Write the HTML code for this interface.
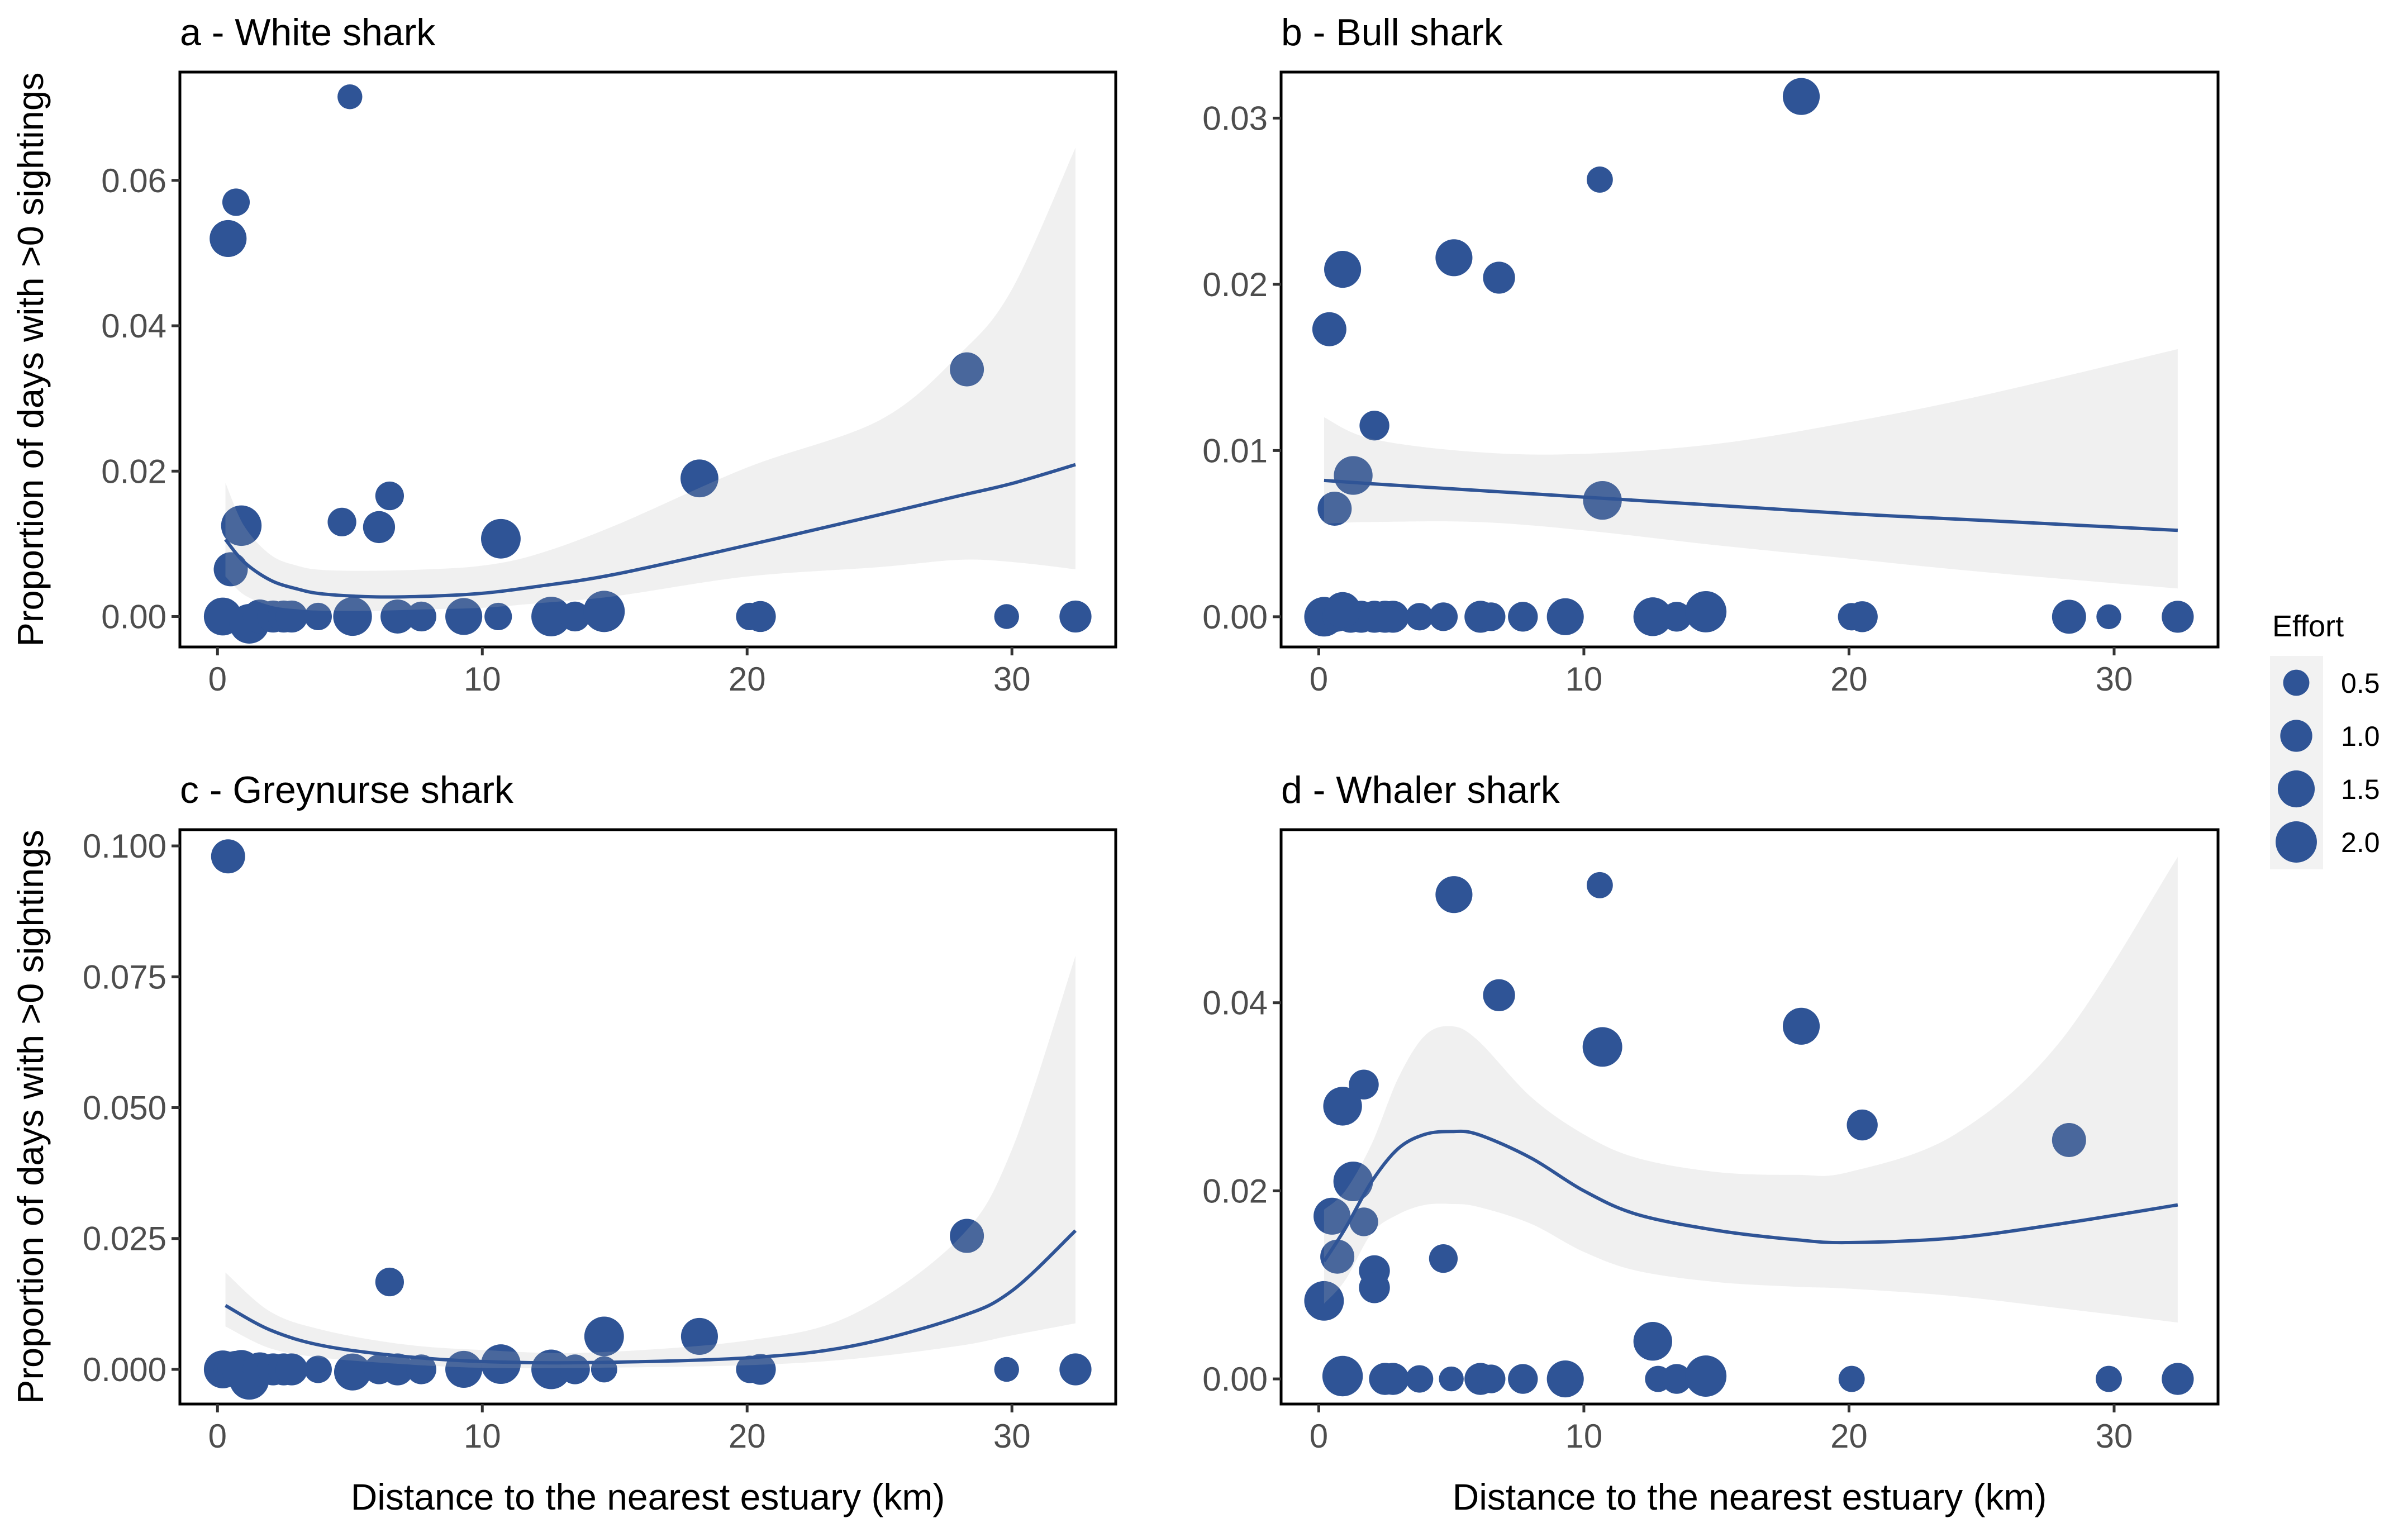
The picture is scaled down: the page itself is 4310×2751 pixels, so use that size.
<!DOCTYPE html>
<html><head><meta charset="utf-8">
<style>
html,body{margin:0;padding:0;background:#fff;}
svg{display:block;}
text{font-family:"Liberation Sans",Arial,sans-serif;}
</style></head>
<body>
<svg id="fig" width="4310" height="2751" viewBox="0 0 4310 2751" xmlns="http://www.w3.org/2000/svg">
<rect width="4310" height="2751" fill="#fff"/>
<g>
  <text x="4067" y="1139" font-size="54" fill="#000">Effort</text>
  <rect x="4063" y="1174" width="95" height="382" fill="#f2f2f2"/>
  <g id="legendKeys"></g>
</g>
</svg>
<script>
// ---- shared tick labels ----
const xTicks = [0, 10, 20, 30];
const legendEfforts = [0.5, 1.0, 1.5, 2.0];
const legendLabels = ["0.5", "1.0", "1.5", "2.0"];

// ---- panel a: White shark ----
const aX      = [0.2,0.4,0.5,0.7,0.9,1.2,1.6,2.1,2.5,2.8,3.8,4.7,5.0,5.1,6.1,6.5,6.8,7.7,9.3,10.6,10.7,12.6,13.5,14.6,18.2,20.1,20.5,28.3,29.8,32.4];
const aY      = [0,0.052,0.0065,0.057,0.0125,-0.001,0,0,0,0,0,0.013,0.0715,0,0.0123,0.0166,0,0,0,0,0.0107,0,0,0.0007,0.019,0,0,0.034,0,0];
const aEffort = [1.6,1.5,1.2,0.6,1.9,1.8,1.2,1.0,1.0,1.0,0.6,0.7,0.4,1.7,1.0,0.7,1.2,0.8,1.5,0.6,1.8,1.8,0.8,2.0,1.6,0.6,0.9,1.2,0.4,1.0];
const aFitX   = [0.3,1,2,3,4,6,8,10,12,15,20,25,28,30,32.4];
const aFit    = [0.0106,0.0075,0.005,0.0038,0.0031,0.0027,0.0028,0.0032,0.0041,0.0058,0.0098,0.014,0.0166,0.0183,0.0209];
const aHi     = [0.0184,0.0125,0.0085,0.007,0.0064,0.0063,0.0065,0.007,0.0085,0.0125,0.0205,0.027,0.036,0.045,0.0645];
const aLo     = [0.0055,0.003,0.0015,0.001,0.0008,0.0008,0.001,0.0012,0.0018,0.0028,0.0055,0.0068,0.0078,0.0075,0.0065];
const aYTicks = [0, 0.02, 0.04, 0.06];
const aYLabels = ["0.00","0.02","0.04","0.06"];

// ---- panel b: Bull shark ----
const bX      = [0.2,0.4,0.5,0.7,0.9,1.2,1.6,2.1,2.5,2.8,3.8,4.7,5.1,6.1,6.5,6.8,7.7,9.3,10.6,10.7,12.6,13.5,14.6,18.2,20.1,20.5,28.3,29.8,32.4,0.9,2.1,1.3,0.6];
const bY      = [0,0.0173,0,0,0.0209,0,0,0,0,0,0,0,0.0216,0,0,0.0204,0,0,0.0263,0.007,0,0,0.0003,0.0313,0,0,0,0,0,0.0004,0.0115,0.0085,0.0065];
const bEffort = [1.8,1.2,1.0,0.8,1.5,1.0,1.0,1.0,1.0,1.0,0.6,0.7,1.5,1.0,0.7,1.0,0.8,1.5,0.5,1.7,1.7,0.8,2.0,1.5,0.6,0.9,1.2,0.4,1.0,1.4,0.8,1.7,1.2];
const bFitX   = [0.2,2,6,10,15,20,25,32.4];
const bFit    = [0.0082,0.0080,0.0076,0.0072,0.0067,0.0062,0.0058,0.0052];
const bHi     = [0.012,0.0107,0.0099,0.0098,0.0104,0.0117,0.0133,0.0161];
const bLo     = [0.0056,0.0057,0.0057,0.0052,0.0043,0.0035,0.0027,0.0017];
const bYTicks = [0, 0.01, 0.02, 0.03];
const bYLabels = ["0.00","0.01","0.02","0.03"];

// ---- panel c: Greynurse shark ----
const cX      = [0.2,0.4,0.5,0.7,0.9,1.2,1.6,2.1,2.5,2.8,3.8,5.1,6.1,6.5,6.8,7.7,9.3,10.7,12.6,13.5,14.6,14.6,18.2,20.1,20.5,28.3,29.8,32.4];
const cY      = [0,0.098,0,0,0,-0.002,0,0,0,0,0,-0.0005,0,0.0167,0,0,0,0.001,0,0,0,0.0063,0.0063,0,0,0.0255,0,0];
const cEffort = [1.6,1.2,1.2,1.5,1.7,1.8,1.2,1.0,1.0,1.0,0.6,1.5,0.8,0.7,1.0,0.8,1.5,1.8,1.8,0.8,0.5,1.8,1.5,0.6,0.9,1.2,0.4,1.0];
const cFitX   = [0.3,2,4,7,10,14,20,24,28,30,32.4];
const cFit    = [0.0122,0.0075,0.0045,0.0025,0.0015,0.0013,0.0022,0.0045,0.01,0.015,0.0265];
const cHi     = [0.0185,0.011,0.0075,0.0048,0.0037,0.0032,0.0055,0.0105,0.025,0.042,0.079];
const cLo     = [0.0082,0.004,0.0022,0.001,0.0003,0.0003,0.0008,0.002,0.0045,0.0065,0.0088];
const cYTicks = [0, 0.025, 0.05, 0.075, 0.1];
const cYLabels = ["0.000","0.025","0.050","0.075","0.100"];

// ---- panel d: Whaler shark ----
const dX      = [5.1,10.6,6.8,18.2,10.7,1.7,0.9,20.5,28.3,1.3,0.5,1.7,0.7,4.7,2.1,2.1,0.2,12.6,0.9,2.5,2.8,3.8,5.0,6.1,6.5,7.7,9.3,12.8,13.5,14.6,20.1,29.8,32.4];
const dY      = [0.0515,0.0525,0.0408,0.0375,0.0353,0.0313,0.029,0.027,0.0254,0.021,0.0173,0.0167,0.013,0.0128,0.0115,0.0097,0.0083,0.004,0.0003,0,0,0,0,0,0,0,0,0,0,0.0003,0,0,0];
const dEffort = [1.5,0.5,1.0,1.5,1.8,0.8,1.7,0.9,1.2,1.8,1.5,0.7,1.2,0.7,0.9,0.9,1.8,1.7,1.9,1.0,1.0,0.6,0.4,1.0,0.7,0.8,1.5,0.5,0.8,2.0,0.5,0.5,1.0];
const dFitX   = [0.2,1,2,3,4,5,6,8,10,12,15,18,20,24,28,32.4];
const dFit    = [0.0125,0.016,0.021,0.0245,0.026,0.0263,0.026,0.0235,0.02,0.0175,0.0158,0.0148,0.0145,0.015,0.0165,0.0185];
const dHi     = [0.018,0.02,0.025,0.032,0.0365,0.0375,0.036,0.03,0.026,0.0235,0.022,0.0217,0.022,0.026,0.036,0.0555];
const dLo     = [0.008,0.0105,0.0155,0.0175,0.0185,0.0186,0.0183,0.0165,0.0135,0.0115,0.0103,0.0098,0.0096,0.0088,0.0075,0.006];
const dYTicks = [0, 0.02, 0.04];
const dYLabels = ["0.00","0.02","0.04"];

const NS = "http://www.w3.org/2000/svg";
const svg = document.getElementById('fig');
const BLUE = "#2f5496";
function mk(tag, attrs, parent){ const e=document.createElementNS(NS,tag); for(const k in attrs) e.setAttribute(k,attrs[k]); parent.appendChild(e); return e; }
function rOf(e){ return Math.sqrt(276 + 545*e); }
function smooth(pts, first){
  let d = (first?'M':'L') + pts[0][0].toFixed(1)+','+pts[0][1].toFixed(1);
  for(let i=0;i<pts.length-1;i++){
    const p0=pts[Math.max(0,i-1)], p1=pts[i], p2=pts[i+1], p3=pts[Math.min(pts.length-1,i+2)];
    const c1=[p1[0]+(p2[0]-p0[0])/6, p1[1]+(p2[1]-p0[1])/6];
    const c2=[p2[0]-(p3[0]-p1[0])/6, p2[1]-(p3[1]-p1[1])/6];
    d += 'C'+c1[0].toFixed(1)+','+c1[1].toFixed(1)+' '+c2[0].toFixed(1)+','+c2[1].toFixed(1)+' '+p2[0].toFixed(1)+','+p2[1].toFixed(1);
  }
  return d;
}

function panel(cfg){
  const g = mk('g', {}, svg);
  
  
  const L=cfg.left, R=cfg.right, T=cfg.top, B=cfg.bottom;
  const xs = v => L + (v - cfg.xMin)/(cfg.xMax - cfg.xMin)*(R-L);
  const ys = v => B - (v - cfg.yMin)/(cfg.yMax - cfg.yMin)*(B-T);
  const clipId = 'clip-'+cfg.name;
  const defs = mk('defs', {}, g);
  const cp = mk('clipPath', {id: clipId}, defs);
  mk('rect', {x:L, y:T, width:R-L, height:B-T}, cp);
  const plot = mk('g', {'clip-path':'url(#'+clipId+')'}, g);
  
  
  for(let i=0;i<cfg.x.length;i++){
    const c = mk('circle', {cx:xs(cfg.x[i]), cy:ys(cfg.y[i]), r:rOf(cfg.e[i]), fill:BLUE}, plot);
    
    
  }
  const hiPts = cfg.fx.map((v,i)=>[xs(v), ys(cfg.hi[i])]);
  const loPts = cfg.fx.map((v,i)=>[xs(v), ys(cfg.lo[i])]).reverse();
  const d = smooth(hiPts, true) + smooth(loPts, false) + 'Z';
  const rib = mk('path', {d:d, fill:'rgba(179,179,179,0.2)'}, plot);
  
  
  const fitPts = cfg.fx.map((v,i)=>[xs(v), ys(cfg.fit[i])]);
  const ln = mk('path', {d:smooth(fitPts,true), fill:'none', stroke:BLUE, 'stroke-width':6, 'stroke-linejoin':'round'}, plot);
  
  
  const fr = mk('rect', {x:L, y:T, width:R-L, height:B-T, fill:'none', stroke:'#000', 'stroke-width':5}, g);
  
  
  cfg.yt.forEach((v,i)=>{
    const y = ys(v);
    const t = mk('line', {x1:L-15, x2:L, y1:y, y2:y, stroke:'#333', 'stroke-width':5}, g);
    
    
    const tx = mk('text', {x:L-24, y:y+21, 'font-size':60, fill:'#4d4d4d', 'text-anchor':'end'}, g);
    tx.textContent = cfg.yl[i];
    
    
  });
  xTicks.forEach(v=>{
    const x = xs(v);
    const t = mk('line', {x1:x, x2:x, y1:B, y2:B+15, stroke:'#333', 'stroke-width':5}, g);
    
    
    const tx = mk('text', {x:x, y:B+78, 'font-size':60, fill:'#4d4d4d', 'text-anchor':'middle'}, g);
    tx.textContent = String(v);
    
    
  });
  const ti = mk('text', {x:L, y:T-48, 'font-size':68, fill:'#000'}, g);
  ti.textContent = cfg.title;
  
  
  if(cfg.xTitle){
    const xt = mk('text', {x:(L+R)/2, y:2702, 'font-size':66, fill:'#000', 'text-anchor':'middle'}, g);
    xt.textContent = 'Distance to the nearest estuary (km)';
    
    
  }
  if(cfg.yTitle){
    const cy=(T+B)/2;
    const yt = mk('text', {x:0, y:0, 'font-size':65, fill:'#000', 'text-anchor':'middle', transform:'translate(77,'+cy+') rotate(-90)'}, g);
    yt.textContent = 'Proportion of days with >0 sightings';
    
    
  }
}

const XMIN=-1.42, XMAX=33.92;
panel({name:'panel-a-white-shark', title:'a - White shark', left:322,right:1997,top:129,bottom:1158, xMin:XMIN,xMax:XMAX, yMin:-0.00419,yMax:0.0749,
  x:aX,y:aY,e:aEffort,fx:aFitX,fit:aFit,hi:aHi,lo:aLo,yt:aYTicks,yl:aYLabels,yTitle:true});
panel({name:'panel-b-bull-shark', title:'b - Bull shark', left:2293,right:3970,top:129,bottom:1158, xMin:XMIN,xMax:XMAX, yMin:-0.00182,yMax:0.03277,
  x:bX,y:bY,e:bEffort,fx:bFitX,fit:bFit,hi:bHi,lo:bLo,yt:bYTicks,yl:bYLabels});
panel({name:'panel-c-greynurse-shark', title:'c - Greynurse shark', left:322,right:1997,top:1485,bottom:2513, xMin:XMIN,xMax:XMAX, yMin:-0.00662,yMax:0.1031,
  x:cX,y:cY,e:cEffort,fx:cFitX,fit:cFit,hi:cHi,lo:cLo,yt:cYTicks,yl:cYLabels,yTitle:true,xTitle:true});
panel({name:'panel-d-whaler-shark', title:'d - Whaler shark', left:2293,right:3970,top:1485,bottom:2513, xMin:XMIN,xMax:XMAX, yMin:-0.00267,yMax:0.0584,
  x:dX,y:dY,e:dEffort,fx:dFitX,fit:dFit,hi:dHi,lo:dLo,yt:dYTicks,yl:dYLabels,xTitle:true});

const lg = document.getElementById('legendKeys');
legendEfforts.forEach((e,i)=>{
  const cy = 1222 + i*95;
  const c = mk('circle', {cx:4110, cy:cy, r:rOf(e), fill:BLUE}, lg);
  
  
  const t = mk('text', {x:4190, y:cy+18, 'font-size':50, fill:'#000'}, lg);
  t.textContent = legendLabels[i];
  
  
});
</script>
</body></html>
